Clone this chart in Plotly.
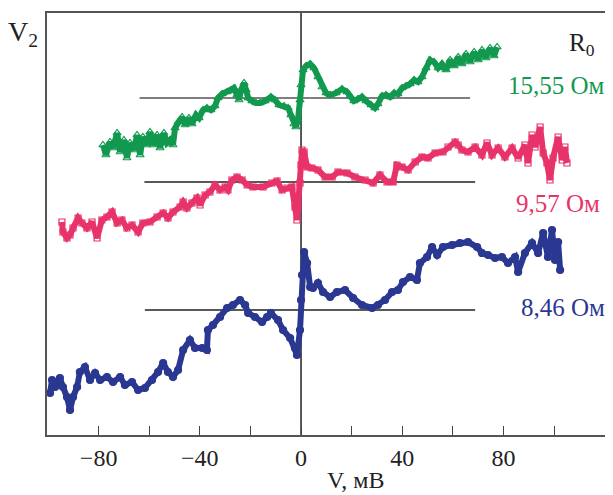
import plotly.graph_objects as go

# x: bias voltage V, mV ; y: V2 signal, arbitrary units (axis has no scale)
green_pts = [(-78.3,290),(-77.1,280),(-75.5,293),(-74.3,287),(-72.7,302),(-71.5,283),(-70.0,295),(-68.8,277),
 (-67.6,292),(-66.0,285),(-64.8,300),(-63.6,280),(-62.5,298),(-60.9,290),(-59.7,303),(-58.5,290),(-56.9,300),
 (-55.7,287),(-54.2,302),(-53.0,292),(-51.8,295),(-50.6,290),(-49.8,307),(-48.6,313),(-47.0,318),(-45.8,310),
 (-44.3,317),(-43.1,311),(-41.5,320),(-40.3,317),(-38.7,325),(-37.2,327),(-35.6,325),(-34.0,329),(-32.8,337),
 (-31.2,341),(-29.2,343),(-27.7,345),(-26.5,347),(-25.3,340),(-24.5,335),(-23.7,345),(-22.5,352),(-21.7,345),
 (-20.9,337),(-19.4,334),(-17.8,332),(-16.2,332),(-14.2,334),(-11.9,338),(-10.3,335),(-8.7,330),(-6.7,329),
 (-5.1,327),(-4.0,320),(-2.8,311),(-2.0,308),(-1.2,315),(-0.4,335),(0.0,350),(0.8,365),(2.0,369),(3.6,371),
 (5.1,367),(6.7,358),(8.3,348),(9.9,342),(11.5,340),(13.8,342),(16.2,346),(18.2,343),(19.4,339),(20.9,334),
 (22.5,336),(24.1,338),(25.7,334),(27.7,330),(29.2,327),(30.4,331),(32.0,339),(33.6,340),(35.2,338),(36.8,342),
 (38.3,341),(39.9,347),(41.5,349),(43.1,351),(44.7,355),(46.2,353),(47.8,358),(49.4,367),(51.0,375),(52.6,373),
 (54.2,367),(55.7,371),(57.3,365),(58.9,375),(60.5,369),(62.1,378),(63.6,371),(65.2,381),(66.8,373),(68.4,383),
 (70.0,375),(71.5,385),(73.1,377),(74.7,387),(76.3,379),(77.5,388)]

pink_pts = [(-94.5,213),(-94.1,203),(-92.5,197),(-91.3,200),(-90.1,207),(-88.1,217),(-86.6,212),(-84.6,207),
 (-82.6,213),(-80.6,197),(-78.7,215),(-76.7,218),(-74.7,223),(-72.7,212),(-70.8,215),(-68.8,207),(-66.8,210),
 (-64.4,203),(-62.5,212),(-59.7,213),(-56.9,218),(-54.5,222),(-52.6,217),(-50.6,223),(-47.8,228),(-46.6,233),
 (-45.1,227),(-43.1,232),(-41.1,237),(-39.9,230),(-37.9,240),(-36.0,243),(-34.0,250),(-32.0,245),(-30.0,248),
 (-28.9,245),(-27.3,255),(-25.3,258),(-23.3,255),(-21.3,250),(-19.0,248),(-15.0,248),(-11.5,252),(-9.5,254),
 (-7.5,245),(-5.5,247),(-3.6,248),(-2.4,228),(-1.6,215),(-1.2,228),(-0.4,252),(0.0,270),(0.4,285),(1.2,283),
 (2.4,268),(4.3,267),(6.7,265),(9.5,258),(12.3,258),(14.6,263),(18.2,262),(21.3,258),(25.3,255),(28.5,252),
 (31.2,260),(34.0,253),(36.4,253),(37.9,270),(39.9,268),(42.3,265),(45.1,273),(47.8,278),(50.2,277),(53.0,282),
 (56.1,283),(58.1,288),(60.9,293),(62.1,290),(63.6,285),(66.0,283),(68.8,288),(71.5,280),(73.5,292),(75.5,280),
 (77.9,287),(80.6,278),(83.4,287),(85.8,277),(88.5,290),(89.7,272),(91.3,300),(92.5,288),(94.5,308),(95.7,282),
 (97.2,272),(98.4,255),(99.6,277),(101.6,298),(103.2,275),(104.3,288),(105.1,272)]

blue_pts = [(-99.2,42),(-98.4,55),(-97.2,48),(-95.3,57),(-94.1,48),(-92.5,38),(-91.3,25),(-90.1,38),(-88.5,48),
 (-87.4,63),(-85.4,68),(-83.4,55),(-81.4,62),(-79.4,55),(-76.7,58),(-74.3,53),(-71.5,58),(-69.6,50),(-66.8,53),
 (-64.4,45),(-61.7,47),(-58.9,55),(-56.5,63),(-54.5,72),(-52.6,63),(-50.6,58),(-48.6,65),(-46.6,85),(-43.9,95),
 (-41.9,87),(-39.1,87),(-37.2,85),(-36.8,105),(-34.8,110),(-32.0,118),(-29.2,127),(-26.9,130),(-24.1,135),
 (-22.1,130),(-20.9,122),(-18.2,118),(-15.4,113),(-13.4,118),(-11.9,122),(-9.1,115),(-7.1,105),(-4.3,97),
 (-2.4,87),(-1.6,80),(-0.4,105),(0.0,135),(0.4,160),(1.2,183),(2.4,172),(3.6,148),(4.7,147),(6.7,152),(8.7,143),
 (11.5,138),(14.2,143),(17.4,145),(20.6,137),(24.1,130),(28.1,127),(30.4,130),(33.2,135),(36.0,143),(38.3,145),
 (40.3,153),(43.1,158),(45.8,155),(47.0,172),(49.8,178),(51.8,188),(53.8,180),(56.1,188),(59.7,190),(62.8,192),
 (66.0,193),(69.6,188),(71.5,182),(73.9,180),(76.7,177),(79.4,178),(81.8,172),(84.6,178),(85.8,163),(88.5,182),
 (91.3,192),(93.7,182),(95.7,202),(97.6,178),(99.2,205),(100.4,175),(101.6,193),(102.4,165)]

# zero-level reference lines: (x_start, x_end, level)
ref_lines = [(-63.8, 66.8, 337), (-61.9, 68.8, 253), (-61.7, 68.8, 125)]

series_labels = ["15,55 Ом", "9,57 Ом", "8,46 Ом"]
tick_vals = [-80, -60, -40, -20, 0, 20, 40, 60, 80, 100]
tick_text = ["\u221280", " ", "\u221240", " ", "0", " ", "40", " ", "80", " "]

X_RANGE = [-100.4, 123.3]
Y_RANGE = [0, 422]

GREEN = "#12994f"
PINK = "#e8336a"
BLUE = "#2b3892"
SERIF = "Liberation Serif, Times New Roman, serif"

fig = go.Figure()

def add_series(pts, color, symbol, size):
    xs = [p[0] for p in pts]
    ys = [p[1] for p in pts]
    fig.add_trace(go.Scatter(x=xs, y=ys, mode="lines", line=dict(color=color, width=6),
                             hoverinfo="skip", showlegend=False))
    fig.add_trace(go.Scatter(x=xs, y=ys, mode="markers",
                             marker=dict(symbol=symbol, size=size, color=color,
                                         line=dict(color=color, width=1.2)),
                             showlegend=False))

for (x0, x1, lvl), col in zip(ref_lines, ["#555555", "#222222", "#222222"]):
    fig.add_trace(go.Scatter(x=[x0, x1], y=[lvl, lvl], mode="lines",
                             line=dict(color=col, width=1.6), showlegend=False))

fig.add_trace(go.Scatter(x=[0, 0], y=Y_RANGE, mode="lines",
                         line=dict(color="#111111", width=1.4), showlegend=False))

add_series(green_pts, GREEN, "triangle-up-open", 7)
add_series(pink_pts, PINK, "square-open", 6)
add_series(blue_pts, BLUE, "circle", 7)

# the page body has an 8 px margin, so the figure is 8 px smaller and offset
OFF = 8
fig.update_layout(
    width=613 - OFF, height=495 - OFF,
    margin=dict(l=47 - OFF, r=0, t=13 - OFF, b=60),
    paper_bgcolor="white", plot_bgcolor="white",
    font=dict(family=SERIF, size=24, color="#222222"),
    xaxis=dict(range=X_RANGE, tickvals=tick_vals, ticktext=tick_text,
               ticks="inside", ticklen=9, tickwidth=1.2, tickcolor="#444444",
               showline=True, linecolor="#555555", linewidth=1.6, mirror=True,
               showgrid=False, zeroline=False, tickfont=dict(size=24, family=SERIF, color="#222222")),
    yaxis=dict(range=Y_RANGE, showticklabels=False, ticks="", showline=True,
               linecolor="#555555", linewidth=1.6, mirror=False,
               showgrid=False, zeroline=False),
)

def px_to_paper(px, py):
    return (px - 47) / 566.0, (435 - py) / 422.0

anns = [
    ("V<sub>2</sub>", 6, 33, "left", 28, "#222222"),
    ("V, мВ", 355, 480, "center", 24, "#222222"),
    ("R<sub>0</sub>", 567, 44, "left", 25, "#222222"),
    (series_labels[0], 607, 86, "right", 25, GREEN),
    (series_labels[1], 602, 204, "right", 25, PINK),
    (series_labels[2], 607, 307, "right", 25, BLUE),
]
for text, px, py, anchor, size, col in anns:
    ax, ay = px_to_paper(px, py)
    fig.add_annotation(text=text, x=ax, y=ay, xref="paper", yref="paper",
                       xanchor=anchor, yanchor="middle", showarrow=False,
                       font=dict(family=SERIF, size=size, color=col))

fig.write_html("out.html")
